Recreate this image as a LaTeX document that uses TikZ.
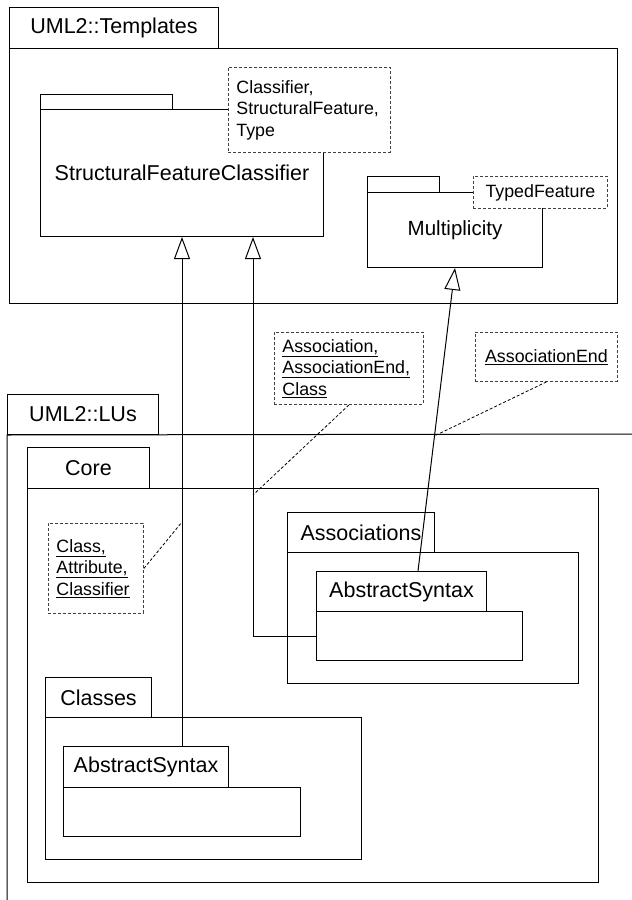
\documentclass[tikz,border=0pt]{standalone}
\usepackage{fontspec}
\setmainfont{Liberation Sans}
\usetikzlibrary{arrows.meta}

\newcommand{\pkgfont}{\fontsize{21.5}{25}\selectfont}
\newcommand{\notefont}{\fontsize{17.8}{21.5}\selectfont}

\tikzset{
  pkg/.style={draw=black, line width=1pt, fill=white, inner sep=0pt,
              anchor=north west, font=\pkgfont},
  note/.style={draw=black!75, dash pattern=on 3pt off 2pt, line width=0.9pt,
               fill=white, inner sep=0pt, anchor=north west, font=\notefont},
  gen/.style={-{Triangle[open, length=22pt, width=16pt]}, line width=1pt, draw=black},
  bind/.style={draw=black, line width=0.8pt, dash pattern=on 3pt off 2pt},
}

\begin{document}
\begin{tikzpicture}[x=1pt, y=-1pt]
\useasboundingbox (0,0) rectangle (632,900);

% ---------------- UML2::Templates ----------------
\node[pkg, minimum width=608, minimum height=255] (tplBody) at (9,48) {};
\node[pkg, minimum width=209, minimum height=41] (tplTab) at (9,7) {UML2::Templates};

% StructuralFeatureClassifier template package
\node[pkg, minimum width=132, minimum height=15] (sfcTab) at (40,94) {};
\node[pkg, minimum width=283, minimum height=127] (sfcBody) at (40,109) {StructuralFeatureClassifier};
\node[note, minimum width=162, minimum height=85, text width=146, align=left]
  (sfcNote) at (228,67) {Classifier,\\StructuralFeature,\\Type};

% Multiplicity template package
\node[pkg, minimum width=72, minimum height=16] (mulTab) at (367,176) {};
\draw[line width=1.6pt] (mulTab.south west) -- (mulTab.south east);
\node[pkg, minimum width=175, minimum height=75, font=\fontsize{20.5}{24}\selectfont]
  (mulBody) at (367,192) {Multiplicity};
\node[note, minimum width=134, minimum height=32] (mulNote) at (473,176) {TypedFeature};

% ---------------- UML2::LUs ----------------
\node[pkg, minimum width=151, minimum height=40] (luTab) at (7,394) {UML2::LUs};
\coordinate (luRight) at (632,434);
\coordinate (luBottom) at (7,900);
\draw[line width=1pt] (luRight) -- (luTab.south west) -- (luBottom);

% Core
\node[pkg, minimum width=571, minimum height=394] (coreBody) at (27,488) {};
\node[pkg, minimum width=122, minimum height=41] (coreTab) at (27,447) {Core};

% Core::Associations
\node[pkg, minimum width=291, minimum height=131] (asBody) at (287,552) {};
\node[pkg, minimum width=147, minimum height=40] (asTab) at (287,512) {Associations};
\node[pkg, minimum width=206, minimum height=49] (asASBody) at (316,611) {};
\node[pkg, minimum width=170, minimum height=40] (asASTab) at (316,571) {AbstractSyntax};

% Core::Classes
\node[pkg, minimum width=316, minimum height=142] (clBody) at (45,717) {};
\node[pkg, minimum width=106, minimum height=40] (clTab) at (45,677) {Classes};
\node[pkg, minimum width=237, minimum height=49] (clASBody) at (63,787) {};
\node[pkg, minimum width=165, minimum height=41] (clASTab) at (63,746) {AbstractSyntax};

% Binding notes
\node[note, minimum width=95, minimum height=90, text width=79, align=left]
  (clNote) at (48,523) {\underline{Class,}\\\underline{Attribute,}\\\underline{Classifier}};
\node[note, minimum width=149, minimum height=72, text width=133, align=left]
  (asNote) at (274,332) {\underline{Association,}\\\underline{AssociationEnd,}\\\underline{Class}};
\node[note, minimum width=142, minimum height=49] (aeNote) at (475,332) {\underline{AssociationEnd}};

% ---------------- Template bindings ----------------
\coordinate (xA) at (182,0);
\coordinate (xB) at (253,0);
\coordinate (cStart) at (418,571);

\draw[gen] (clASTab.north -| xA) -- (sfcBody.south -| xA);
\draw[gen] (asASBody.west) -| (sfcBody.south -| xB);
\draw[gen] (cStart) -- (mulBody.south);

% points on the binding lines where the notes attach
\coordinate (bA) at (182,522);
\coordinate (bB) at (253,495);
\coordinate (bC) at (434.2,436);

\draw[bind] (clNote.east) -- (bA);
\draw[bind] (asNote.south) -- (bB);
\draw[bind] (aeNote.south) -- (bC);

\end{tikzpicture}
\end{document}
